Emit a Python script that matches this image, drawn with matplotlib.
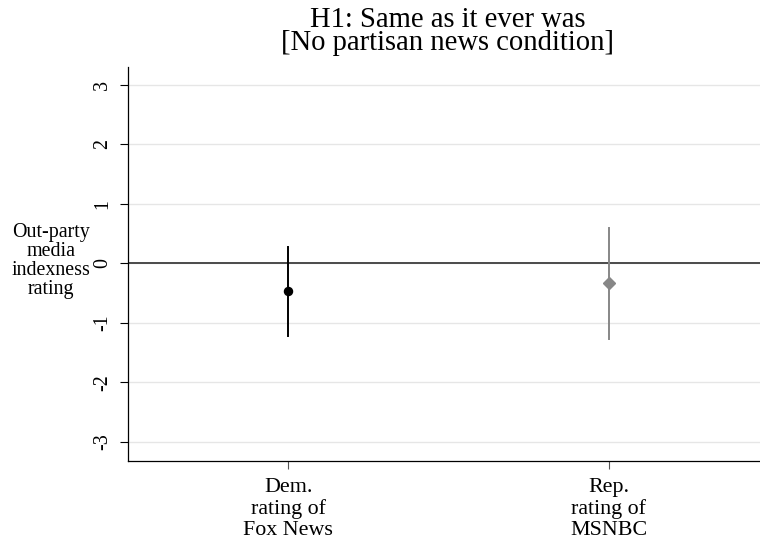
import matplotlib
matplotlib.use("Agg")
import matplotlib.pyplot as plt

# Values
groups = ["Dem.\nrating of\nFox News", "Rep.\nrating of\nMSNBC"]
estimates = [-0.47, -0.33]
ci_low = [-1.22, -1.27]
ci_high = [0.27, 0.60]
colors = ["black", "#878787"]
markers = ["o", "D"]
marker_sizes = [5.8, 6.6]
y_ticks = [-3, -2, -1, 0, 1, 2, 3]

plt.rcParams["font.family"] = ["Liberation Serif", "DejaVu Serif"]

fig = plt.figure(figsize=(7.6, 5.46), dpi=100)
# axes runs slightly past the right edge, as in the reference
ax = fig.add_axes([128 / 760, 1 - 461 / 546, 641 / 760, (461 - 67) / 546])

xs = list(range(1, len(groups) + 1))

# light grid and the zero reference line
for t in y_ticks:
    ax.axhline(t, color="#e6e6e6", linewidth=1.0, zorder=0)
ax.axhline(0, color="#4a4a4a", linewidth=1.4, zorder=1)

# confidence intervals and point estimates
for x, est, lo, hi, c, m, ms in zip(xs, estimates, ci_low, ci_high, colors, markers, marker_sizes):
    ax.plot([x, x], [lo, hi], color=c, linewidth=1.4, zorder=2)
    ax.plot(x, est, marker=m, color=c, markersize=ms, linestyle="none", zorder=3)

ax.set_xlim(0.5, 2.5)
ax.set_ylim(-3.32, 3.3)
ax.set_xticks(xs)
ax.set_xticklabels(groups, fontsize=15.8, linespacing=1.16)
ax.set_yticks(y_ticks)
ax.set_yticklabels([str(t) for t in y_ticks], fontsize=14.4, rotation=90, va="center")

ax.tick_params(axis="y", length=6, width=0.8, pad=5.5, color="black")
ax.tick_params(axis="x", length=6, width=0.8, pad=6, color="#555555")

for side in ["top", "right"]:
    ax.spines[side].set_visible(False)
for side in ["left", "bottom"]:
    ax.spines[side].set_linewidth(0.9)

fig.text(51 / 760, 1 - 261 / 546, "Out-party\nmedia\nindexness\nrating",
         ha="center", va="center", fontsize=14.4, linespacing=0.98, multialignment="center")

fig.text(448 / 760, 1 - 7 / 546, "H1: Same as it ever was\n[No partisan news condition]",
         ha="center", va="top", fontsize=20.6, linespacing=0.86, multialignment="center")

fig.savefig("out.png", dpi=100)
